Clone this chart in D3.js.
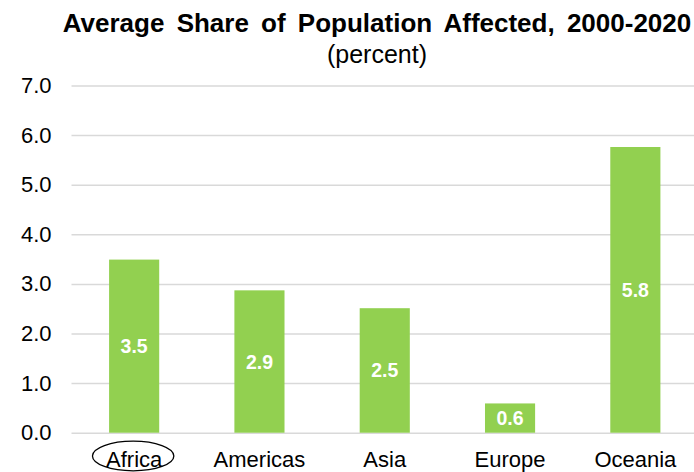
<!DOCTYPE html>
<html>
<head>
<meta charset="utf-8">
<script src="https://cdn.jsdelivr.net/npm/d3@7"></script>
<style>
  html, body { margin: 0; padding: 0; background: #fff; }
  svg { display: block; }
  text { font-family: "Liberation Sans", Arial, sans-serif; }
</style>
</head>
<body>
<svg id="chart" width="694" height="472"></svg>
<script>
// Average share of population affected by region, 2000-2020 (percent)
const regions = ["Africa", "Americas", "Asia", "Europe", "Oceania"];
const shares = [3.49, 2.87, 2.51, 0.59, 5.76];
const yTicks = [0, 1, 2, 3, 4, 5, 6, 7];
const titleText = "Average Share of Population Affected, 2000-2020";
const subtitleText = "(percent)";
const highlighted = "Africa";

const svg = d3.select("#chart");
const W = 694, H = 472;
const plot = { left: 71.5, right: 698, top: 85.5, bottom: 432.7 };

const x = d3.scaleBand()
  .domain(regions)
  .range([plot.left, plot.right])
  .paddingInner(0.6)
  .paddingOuter(0.3);

const y = d3.scaleLinear()
  .domain([0, 7])
  .range([plot.bottom, plot.top]);

// Title block
svg.append("text")
  .attr("x", 377).attr("y", 32)
  .attr("text-anchor", "middle")
  .attr("font-size", 26).attr("font-weight", "bold")
  .attr("word-spacing", 5)
  .attr("fill", "#000")
  .text(titleText);

svg.append("text")
  .attr("x", 377).attr("y", 63)
  .attr("text-anchor", "middle")
  .attr("font-size", 25)
  .attr("fill", "#000")
  .text(subtitleText);

// Horizontal gridlines with tick labels
const yAxis = d3.axisLeft(y)
  .tickValues(yTicks)
  .tickFormat(d3.format(".1f"))
  .tickSize(-(W - plot.left))
  .tickPadding(20);

const gy = svg.append("g")
  .attr("transform", `translate(${plot.left},0)`)
  .call(yAxis);
gy.select(".domain").remove();
gy.selectAll(".tick line")
  .attr("stroke", "#d9d9d9")
  .attr("stroke-width", 1.5);
gy.selectAll(".tick text")
  .attr("font-size", 22)
  .attr("font-family", "'Liberation Sans', Arial, sans-serif")
  .attr("fill", "#000");

// Bars
svg.append("g")
  .selectAll("rect")
  .data(regions)
  .join("rect")
  .attr("x", d => x(d))
  .attr("width", x.bandwidth())
  .attr("y", (d, i) => y(shares[i]))
  .attr("height", (d, i) => y(0) - y(shares[i]))
  .attr("fill", "#92d050");

// Value labels centred in each bar
svg.append("g")
  .selectAll("text")
  .data(regions)
  .join("text")
  .attr("x", d => x(d) + x.bandwidth() / 2)
  .attr("y", (d, i) => (y(shares[i]) + y(0)) / 2)
  .attr("dy", "0.36em")
  .attr("text-anchor", "middle")
  .attr("font-size", 19.5)
  .attr("font-weight", "bold")
  .attr("fill", "#fff")
  .text((d, i) => d3.format(".1f")(shares[i]));

// Category axis labels
const xAxis = d3.axisBottom(x).tickSize(0).tickPadding(19);
const gx = svg.append("g")
  .attr("transform", `translate(0,${plot.bottom})`)
  .call(xAxis);
gx.select(".domain").remove();
gx.selectAll(".tick text")
  .attr("font-size", 22)
  .attr("font-family", "'Liberation Sans', Arial, sans-serif")
  .attr("fill", "#000");

// Ellipse drawn around the highlighted region's label
svg.append("ellipse")
  .attr("cx", x(highlighted) + x.bandwidth() / 2 - 1)
  .attr("cy", 456)
  .attr("rx", 40.7)
  .attr("ry", 14.8)
  .attr("fill", "none")
  .attr("stroke", "#000")
  .attr("stroke-width", 1.3);
</script>
</body>
</html>
